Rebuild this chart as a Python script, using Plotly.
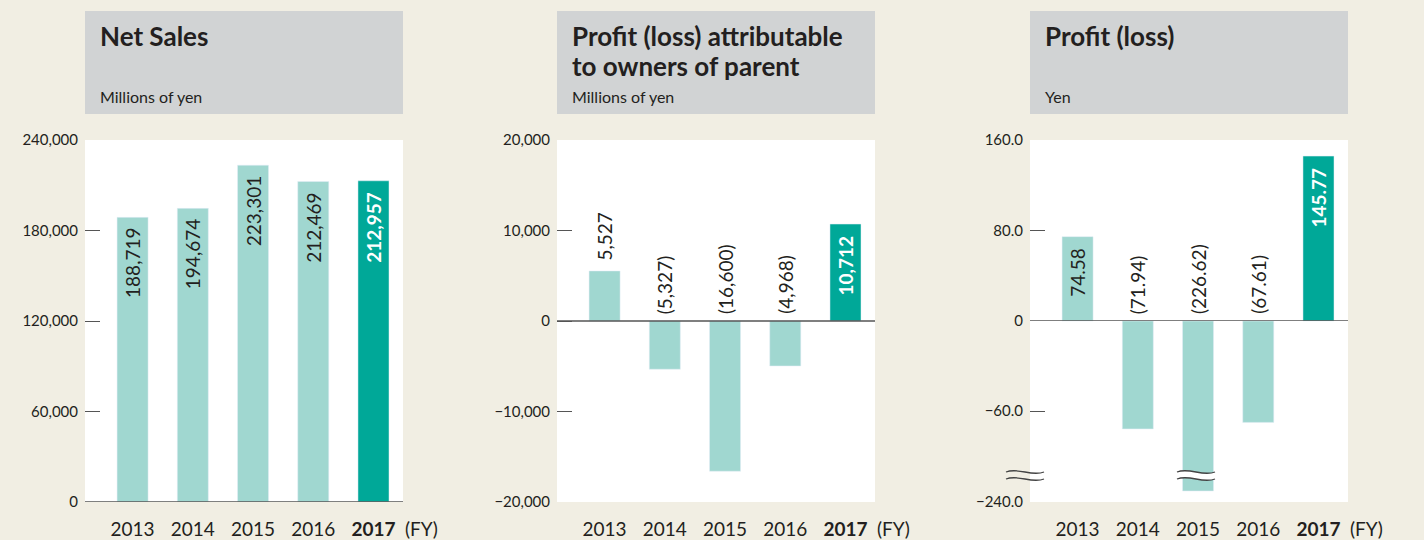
import plotly.graph_objects as go

W, H = 1424, 540

years = ["2013", "2014", "2015", "2016", "2017"]
year_labels = ["2013", "2014", "2015", "2016", "<b>2017</b>"]

net_sales = [188719, 194674, 223301, 212469, 212957]
net_sales_text = ["188,719", "194,674", "223,301", "212,469", "212,957"]

profit_parent = [5527, -5327, -16600, -4968, 10712]
profit_parent_text = ["5,527", "(5,327)", "(16,600)", "(4,968)", "10,712"]

profit_share = [74.58, -71.94, -226.62, -67.61, 145.77]
profit_share_text = ["74.58", "(71.94)", "(226.62)", "(67.61)", "145.77"]

ns_ticks = [0, 60000, 120000, 180000, 240000]
ns_ticktext = ["0", "60,000", "120,000", "180,000", "240,000"]
pp_ticks = [-20000, -10000, 0, 10000, 20000]
pp_ticktext = ["\u221220,000", "\u221210,000", "0", "10,000", "20,000"]

LIGHT = "#a0d7d0"
DARK = "#00a898"
TXT = "#231f20"
BG = "#f1eee3"
HEAD = "#d1d3d4"
FONT = "Lato, 'Noto Sans', sans-serif"
colors = [LIGHT] * 4 + [DARK]


def px(x):
    return x / W


def py(y):
    return 1 - y / H


lefts = [85, 557, 1030]
PW = 318
TOP, BOT, ZERO3, BRK = 140, 502, 321, 474

fig = go.Figure()

# bars
fig.add_trace(go.Bar(x=years, y=net_sales, marker_color=colors, width=0.515,
                     xaxis="x", yaxis="y", hoverinfo="skip"))
fig.add_trace(go.Bar(x=years, y=profit_parent, marker_color=colors, width=0.515,
                     xaxis="x2", yaxis="y2", hoverinfo="skip"))
# broken axis: same series drawn on three stacked y axes
for ax in ["y3", "y4", "y5"]:
    fig.add_trace(go.Bar(x=years, y=profit_share, marker_color=colors, width=0.515,
                         xaxis="x3", yaxis=ax, hoverinfo="skip"))

xcommon = dict(type="category", range=[-0.79, 4.49], tickvals=years, ticktext=year_labels,
               ticks="", showgrid=False, zeroline=False, showline=False, ticklabelstandoff=14,
               automargin=False, tickfont=dict(family=FONT, size=19, color=TXT), fixedrange=True)
ycommon = dict(showgrid=False, zeroline=False, showline=False, ticks="inside", ticklen=15,
               tickcolor="#555555", tickwidth=1.3, ticklabelstandoff=6, automargin=False,
               tickfont=dict(family=FONT, size=15, color=TXT), fixedrange=True)

fig.update_layout(
    xaxis=dict(xcommon, domain=[px(lefts[0]), px(lefts[0] + PW)], anchor="y"),
    xaxis2=dict(xcommon, domain=[px(lefts[1]), px(lefts[1] + PW)], anchor="y2"),
    xaxis3=dict(xcommon, domain=[px(lefts[2]), px(lefts[2] + PW)], anchor="y5"),
    yaxis=dict(ycommon, domain=[py(BOT), py(TOP)], anchor="x", range=[0, 240000],
               tickvals=ns_ticks, ticktext=ns_ticktext),
    yaxis2=dict(ycommon, domain=[py(BOT), py(TOP)], anchor="x2", range=[-20000, 20000],
                tickvals=pp_ticks, ticktext=pp_ticktext),
    yaxis3=dict(ycommon, domain=[py(ZERO3), py(TOP)], anchor="x3", range=[0, 160],
                tickvals=[0, 80, 160], ticktext=["0", "80.0", "160.0"]),
    yaxis4=dict(ycommon, domain=[py(BRK), py(ZERO3)], anchor="x3", range=[-102, 0],
                tickvals=[-60], ticktext=["\u221260.0"]),
    yaxis5=dict(ycommon, domain=[py(BOT), py(BRK)], anchor="x3", range=[-240, -206],
                tickvals=[-240], ticktext=["\u2212240.0"]),
)

ann = []
shapes = []

# header boxes, titles, units
titles = [["Net Sales"], ["Profit (loss) attributable", "to owners of parent"], ["Profit (loss)"]]
units = ["Millions of yen", "Millions of yen", "Yen"]
for i, l in enumerate(lefts):
    shapes.append(dict(type="rect", xref="paper", yref="paper", x0=px(l), x1=px(l + PW),
                       y0=py(114), y1=py(11), fillcolor=HEAD, line_width=0, layer="below"))
    for j, t in enumerate(titles[i]):
        ann.append(dict(text="<b>" + t + "</b>", xref="paper", yref="paper", x=px(l + 13),
                        y=py(36 + 30 * j), xanchor="left", yanchor="middle", showarrow=False,
                        font=dict(family=FONT, size=26, color=TXT)))
    ann.append(dict(text=units[i], xref="paper", yref="paper", x=px(l + 13), y=py(96),
                    xanchor="left", yanchor="middle", showarrow=False,
                    font=dict(family=FONT, size=16, color=TXT)))

# (FY) labels
for xr, yr in [("x", "y"), ("x2", "y2"), ("x3", "y5")]:
    ann.append(dict(text="(FY)", xref=xr + " domain", yref=yr + " domain", x=1, y=0,
                    xanchor="left", yanchor="middle", xshift=1, yshift=-26, borderpad=0,
                    showarrow=False, font=dict(family=FONT, size=19, color=TXT)))


def bar_label(xr, yr, x, y, text, where, bold=False):
    f = dict(family=FONT, size=19, color="white" if bold else TXT)
    if bold:
        text = "<b>" + text + "</b>"
    d = dict(text=text, xref=xr, yref=yr, x=x, y=y, textangle=-90, showarrow=False, font=f)
    if where == "in":
        d.update(yanchor="top", yshift=-9)
    elif where == "out":
        d.update(yanchor="bottom", yshift=8)
    else:  # above zero line
        d.update(y=0, yanchor="bottom", yshift=5)
    ann.append(d)


# annotation x given as category index (numeric-looking names would be read as positions)
for k in range(len(years)):
    bar_label("x", "y", k, net_sales[k], net_sales_text[k], "in", k == 4)
    v = profit_parent[k]
    bar_label("x2", "y2", k, v, profit_parent_text[k],
              "zero" if v < 0 else ("in" if k == 4 else "out"), k == 4)
    v = profit_share[k]
    bar_label("x3", "y3", k, v, profit_share_text[k], "zero" if v < 0 else "in", k == 4)

# base / zero lines
for xr, yr in [("x", "y"), ("x2", "y2"), ("x3", "y3")]:
    shapes.append(dict(type="line", xref=xr + " domain", yref=yr, x0=0, x1=1, y0=0, y1=0,
                       line=dict(color="#555555", width=1.5)))


# axis break marks
def wave(x0, x1, y, a=2.5):
    w = x1 - x0
    return (px(x0), py(y), px(x0 + w / 3), py(y - 2 * a), px(x0 + 2 * w / 3), py(y + 2 * a),
            px(x1), py(y))


def wave_path(x0, x1, y):
    p = wave(x0, x1, y)
    return "M %f,%f C %f,%f %f,%f %f,%f" % p


def band_path(x0, x1, y_up, y_lo):
    a = wave(x0, x1, y_up)
    b = wave(x0, x1, y_lo)
    return ("M %f,%f C %f,%f %f,%f %f,%f" % a +
            " L %f,%f C %f,%f %f,%f %f,%f Z" % (b[6], b[7], b[4], b[5], b[2], b[3], b[0], b[1]))


for (bx0, bx1, fill) in [(1006, 1044, False), (1177, 1215, True)]:
    if fill:
        shapes.append(dict(type="path", xref="paper", yref="paper",
                           path=band_path(bx0, bx1, 472, 479), fillcolor="white", line_width=0))
    for yy in (472, 479):
        shapes.append(dict(type="path", xref="paper", yref="paper", path=wave_path(bx0, bx1, yy),
                           line=dict(color="#444444", width=1.3)))

fig.update_layout(
    width=W, height=H, margin=dict(l=0, r=0, t=0, b=0, autoexpand=False),
    paper_bgcolor=BG, plot_bgcolor="white", showlegend=False,
    annotations=ann, shapes=shapes, font=dict(family=FONT, color=TXT),
)

fig.write_html("out.html", config={"displayModeBar": False},
               post_script="document.body.style.margin='0';document.body.style.overflow='hidden';")
